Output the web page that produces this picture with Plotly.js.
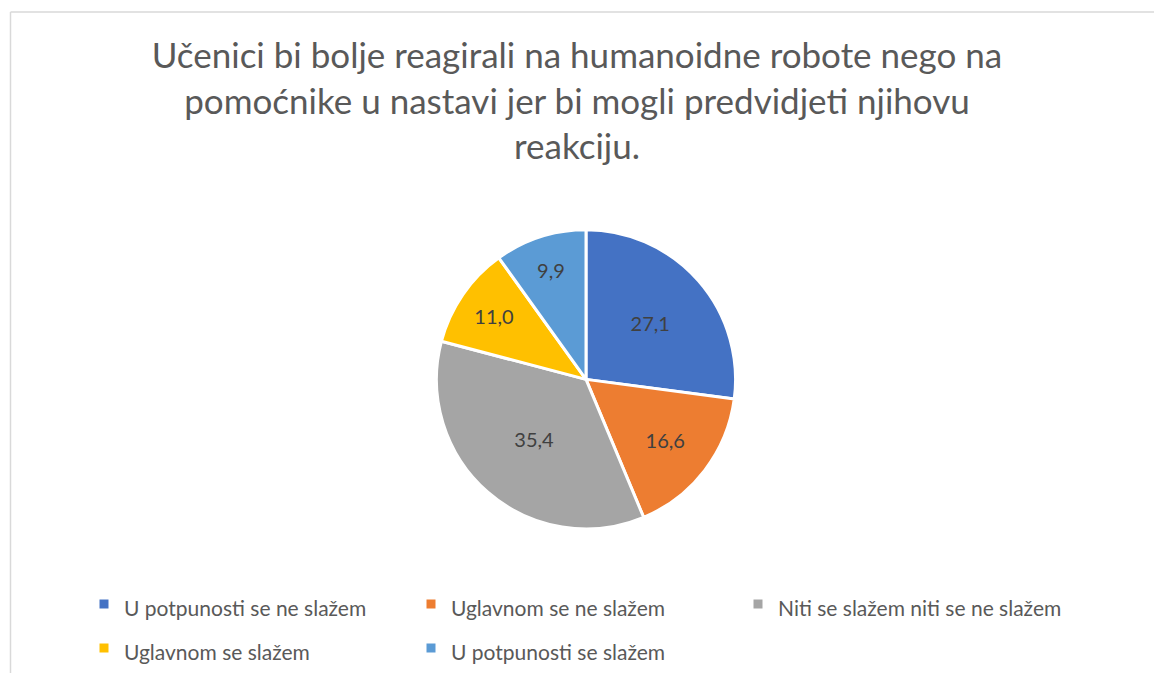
<!DOCTYPE html>
<html>
<head>
<meta charset="utf-8">
<script src="https://cdn.plot.ly/plotly-3.0.1.min.js"></script>
<style>html,body{margin:0;padding:0;background:#fff;}#chart{width:1154px;height:675px;}</style>
</head>
<body>
<div id="chart"></div>
<script>
const categories = [
  "U potpunosti se ne slažem",
  "Uglavnom se ne slažem",
  "Niti se slažem niti se ne slažem",
  "Uglavnom se slažem",
  "U potpunosti se slažem"
];
const values = [27.1, 16.6, 35.4, 11.0, 9.9];
const colors = ["#4472C4", "#ED7D31", "#A5A5A5", "#FFC000", "#5B9BD5"];
const titleLines = [
  "Učenici bi bolje reagirali na humanoidne robote nego na",
  "pomoćnike u nastavi jer bi mogli predvidjeti njihovu",
  "reakciju."
];

const W = 1154, H = 675;
const cx = 586, cy = 380.5, r = 150;
const FONT = "Lato, 'Open Sans', sans-serif";

const labelsText = values.map(v => v.toFixed(1).replace('.', ','));
const legendNames = categories.map(c => '<span style="font-size:21px">' + c + '</span>');

const trace = {
  type: 'pie',
  labels: legendNames,
  values: values,
  text: labelsText,
  textinfo: 'text',
  textposition: 'inside',
  insidetextorientation: 'horizontal',
  hovertext: categories,
  hoverinfo: 'text',
  sort: false,
  direction: 'clockwise',
  rotation: 0,
  marker: { colors: colors, line: { color: '#ffffff', width: 3 } },
  textfont: { family: FONT, size: 20, color: '#404040' },
  insidetextfont: { family: FONT, size: 20, color: '#404040' },
  domain: {
    x: [(cx - r) / W, (cx + r) / W],
    y: [1 - (cy + r) / H, 1 - (cy - r) / H]
  }
};

const layout = {
  width: W, height: H,
  margin: { l: 0, r: 0, t: 0, b: 0 },
  paper_bgcolor: '#ffffff',
  title: {
    text: titleLines.join('<br>'),
    font: { family: FONT, size: 35, color: '#595959' },
    x: 0.5, xanchor: 'center',
    y: 1 - 68 / H, yref: 'container', yanchor: 'top'
  },
  showlegend: true,
  legend: {
    orientation: 'h',
    x: 84 / W, xanchor: 'left',
    y: 1 - 579 / H, yanchor: 'top',
    entrywidth: 282, entrywidthmode: 'pixels',
    font: { family: FONT, size: 31.5, color: '#595959' },
    bgcolor: 'rgba(0,0,0,0)'
  },
  shapes: [
    { type: 'line', xref: 'paper', yref: 'paper', x0: 10.5 / W, x1: 10.5 / W, y0: 0, y1: 1 - 12 / H,
      line: { color: '#d9d9d9', width: 1.5 } },
    { type: 'line', xref: 'paper', yref: 'paper', x0: 10.5 / W, x1: 1, y0: 1 - 12 / H, y1: 1 - 12 / H,
      line: { color: '#d9d9d9', width: 1.5 } }
  ]
};

Plotly.newPlot('chart', [trace], layout, { displayModeBar: false });
</script>
</body>
</html>
